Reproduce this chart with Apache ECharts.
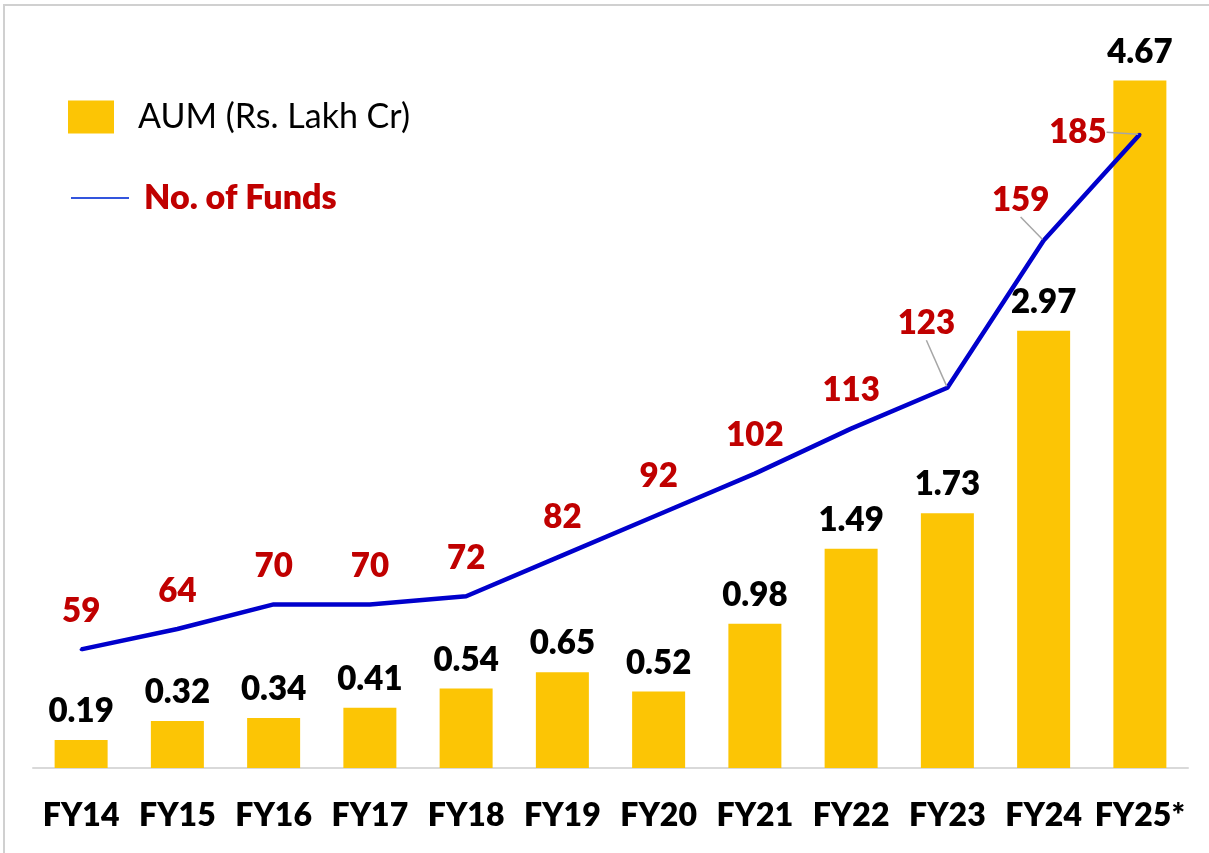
<!DOCTYPE html>
<html>
<head>
<meta charset="utf-8">
<script src="https://cdn.jsdelivr.net/npm/echarts@6/dist/echarts.min.js"></script>
<style>
  html, body { margin: 0; padding: 0; background: #fff; }
  #chart { width: 1209px; height: 853px; }
</style>
</head>
<body>
<div id="chart"></div>
<script>
const years = ["FY14", "FY15", "FY16", "FY17", "FY18", "FY19", "FY20", "FY21", "FY22", "FY23", "FY24", "FY25*"];
const aum = [0.19, 0.32, 0.34, 0.41, 0.54, 0.65, 0.52, 0.98, 1.49, 1.73, 2.97, 4.67];
const funds = [59, 64, 70, 70, 72, 82, 92, 102, 113, 123, 159, 185];

const font = "Lato";
const red = "#c00000";
const heavy = 800;

// labels that sit off to the side with a small leader line
const shifted = { 9: [-21, -26], 10: [-23, -2], 11: [-62, 36] };

const chart = echarts.init(document.getElementById("chart"));

chart.setOption({
  animation: false,
  textStyle: { fontFamily: font },
  graphic: [
    {
      type: "rect",
      shape: { x: 4, y: 5, width: 1230, height: 900 },
      style: { fill: "none", stroke: "#d0d0d0", lineWidth: 2 },
    },
  ],
  grid: { left: 33, right: 21, top: 32, bottom: 85 },
  legend: [
    {
      data: ["AUM (Rs. Lakh Cr)"],
      left: 63,
      top: 95,
      icon: "rect",
      itemWidth: 46,
      itemHeight: 33,
      formatter: "{a|{name}}",
      textStyle: {
        rich: { a: { fontFamily: font, fontSize: 34, color: "#000", padding: [0, 0, 0, 19] } },
      },
    },
    {
      data: ["No. of Funds"],
      left: 66,
      top: 176,
      icon: "rect",
      itemWidth: 58,
      itemHeight: 2,
      itemStyle: { color: "#3355dd" },
      formatter: "{a|{name}}",
      textStyle: {
        rich: { a: { fontFamily: font, fontSize: 34, fontWeight: heavy, color: red, padding: [0, 0, 0, 10] } },
      },
    },
  ],
  xAxis: {
    type: "category",
    data: years,
    axisLine: { lineStyle: { color: "#d9d9d9", width: 2 } },
    axisTick: { show: false },
    axisLabel: { interval: 0, color: "#000", fontSize: 32, fontWeight: heavy, margin: 32, fontFamily: font },
  },
  yAxis: [
    { type: "value", min: 0, max: 5, show: false, splitLine: { show: false } },
    { type: "value", min: 30, max: 210, show: false, splitLine: { show: false } },
  ],
  series: [
    {
      name: "AUM (Rs. Lakh Cr)",
      type: "bar",
      data: aum,
      barWidth: 53,
      itemStyle: { color: "#fcc505" },
      label: {
        show: true,
        position: "top",
        distance: 12,
        color: "#000",
        fontSize: 33,
        fontWeight: heavy,
        fontFamily: font,
        formatter: (p) => p.value.toFixed(2),
      },
    },
    {
      name: "No. of Funds",
      type: "line",
      yAxisIndex: 1,
      data: funds.map((v, i) => ({
        value: v,
        labelLine: { show: shifted[i] !== undefined },
      })),
      symbol: "circle",
      symbolSize: 3,
      lineStyle: { color: "#0000cc", width: 4.5 },
      itemStyle: { color: "#0000cc" },
      z: 5,
      label: {
        show: true,
        position: "top",
        distance: 20,
        color: red,
        fontSize: 33,
        fontWeight: heavy,
        fontFamily: font,
      },
      labelLine: { show: false, lineStyle: { color: "#a6a6a6", width: 1.5 } },
      labelLayout: (p) => {
        const s = shifted[p.dataIndex];
        return s ? { dx: s[0], dy: s[1] } : {};
      },
    },
  ],
});
</script>
</body>
</html>
